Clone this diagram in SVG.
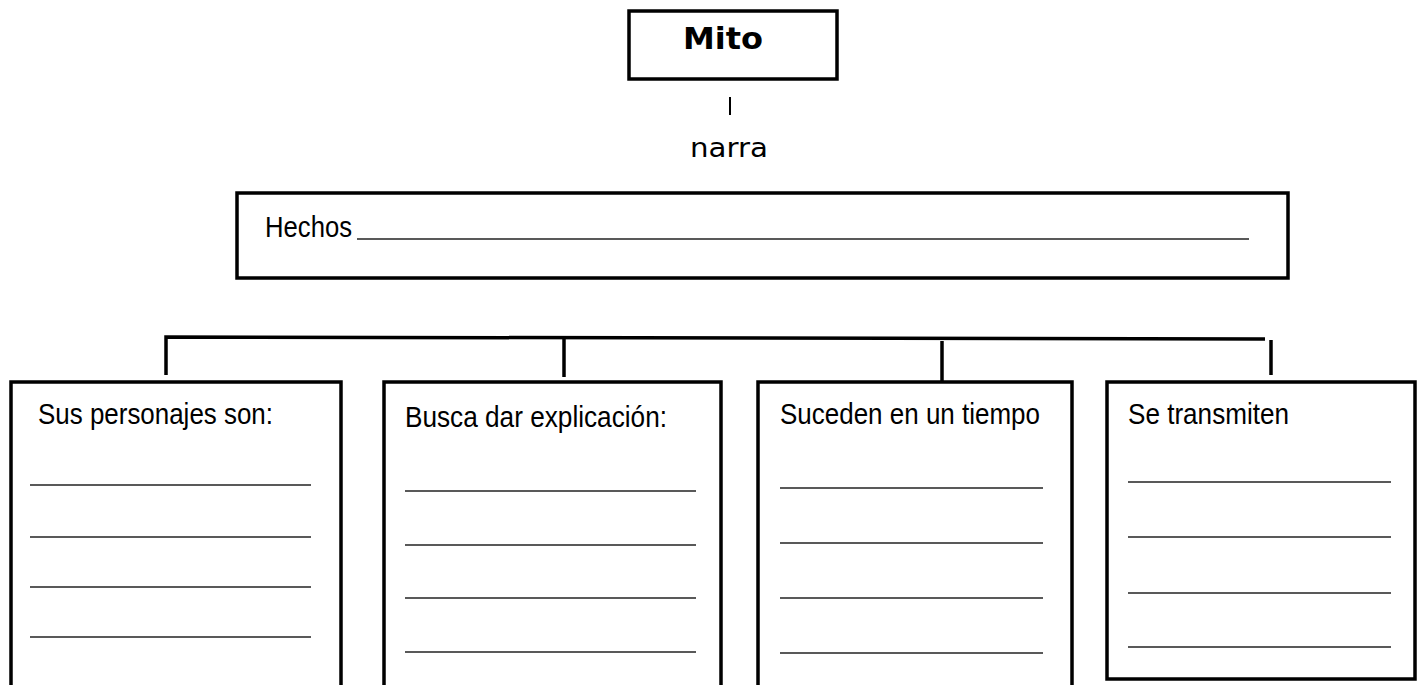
<svg xmlns="http://www.w3.org/2000/svg" width="1424" height="685" viewBox="0 0 1424 685">
  <style>
    .box { fill: #ffffff; stroke: #000000; stroke-width: 3.5; }
    .conn { fill: none; stroke: #000000; stroke-width: 3.5; stroke-linecap: butt; }
    .thin { fill: none; stroke: #000000; stroke-width: 2; }
    .blank { stroke: #222222; stroke-width: 1.5; }
    .lbl { font-family: "Liberation Sans", Arial, sans-serif; font-size: 29px; fill: #000000; }
    .comic { font-family: "Comic Sans MS", "DejaVu Sans", sans-serif; fill: #000000; }
  </style>
  <rect width="1424" height="685" fill="#ffffff"/>

  <g id="connectors">
    <line class="thin" x1="730" y1="97" x2="730" y2="115"/>
    <path class="conn" d="M166 375 L166 337 L1265 339"/>
    <line class="conn" x1="564" y1="338" x2="564" y2="377"/>
    <line class="conn" x1="942" y1="341" x2="942" y2="381"/>
    <line class="conn" x1="1271" y1="340" x2="1271" y2="375"/>
  </g>

  <g id="node-mito">
    <rect class="box" x="629" y="11" width="208" height="68"/>
    <text class="comic" x="683" y="49" font-size="30" font-weight="bold" textLength="80" lengthAdjust="spacingAndGlyphs">Mito</text>
  </g>

  <g id="label-narra">
    <text class="comic" x="690" y="157" font-size="26" textLength="78" lengthAdjust="spacingAndGlyphs">narra</text>
  </g>

  <g id="node-hechos">
    <rect class="box" x="237" y="193" width="1051" height="85"/>
    <text class="lbl" x="265" y="237" font-size="28" textLength="87" lengthAdjust="spacingAndGlyphs">Hechos</text>
    <line class="blank" x1="357" y1="239" x2="1249" y2="239"/>
  </g>

  <g id="node-personajes">
    <rect class="box" x="11" y="382" width="330" height="320"/>
    <text class="lbl" x="38" y="424" textLength="235" lengthAdjust="spacingAndGlyphs">Sus personajes son:</text>
    <line class="blank" x1="30" y1="485" x2="311" y2="485"/>
    <line class="blank" x1="30" y1="537" x2="311" y2="537"/>
    <line class="blank" x1="30" y1="587" x2="311" y2="587"/>
    <line class="blank" x1="30" y1="637" x2="311" y2="637"/>
  </g>

  <g id="node-explicacion">
    <rect class="box" x="384" y="382" width="337" height="320"/>
    <text class="lbl" x="405" y="427" textLength="262" lengthAdjust="spacingAndGlyphs">Busca dar explicación:</text>
    <line class="blank" x1="405" y1="491" x2="696" y2="491"/>
    <line class="blank" x1="405" y1="545" x2="696" y2="545"/>
    <line class="blank" x1="405" y1="598" x2="696" y2="598"/>
    <line class="blank" x1="405" y1="652" x2="696" y2="652"/>
  </g>

  <g id="node-tiempo">
    <rect class="box" x="758" y="382" width="314" height="320"/>
    <text class="lbl" x="780" y="424" textLength="260" lengthAdjust="spacingAndGlyphs">Suceden en un tiempo</text>
    <line class="blank" x1="780" y1="488" x2="1043" y2="488"/>
    <line class="blank" x1="780" y1="543" x2="1043" y2="543"/>
    <line class="blank" x1="780" y1="598" x2="1043" y2="598"/>
    <line class="blank" x1="780" y1="653" x2="1043" y2="653"/>
  </g>

  <g id="node-transmiten">
    <rect class="box" x="1107" y="382" width="308" height="297"/>
    <text class="lbl" x="1128" y="424" textLength="161" lengthAdjust="spacingAndGlyphs">Se transmiten</text>
    <line class="blank" x1="1128" y1="482" x2="1391" y2="482"/>
    <line class="blank" x1="1128" y1="537" x2="1391" y2="537"/>
    <line class="blank" x1="1128" y1="593" x2="1391" y2="593"/>
    <line class="blank" x1="1128" y1="647" x2="1391" y2="647"/>
  </g>
</svg>
